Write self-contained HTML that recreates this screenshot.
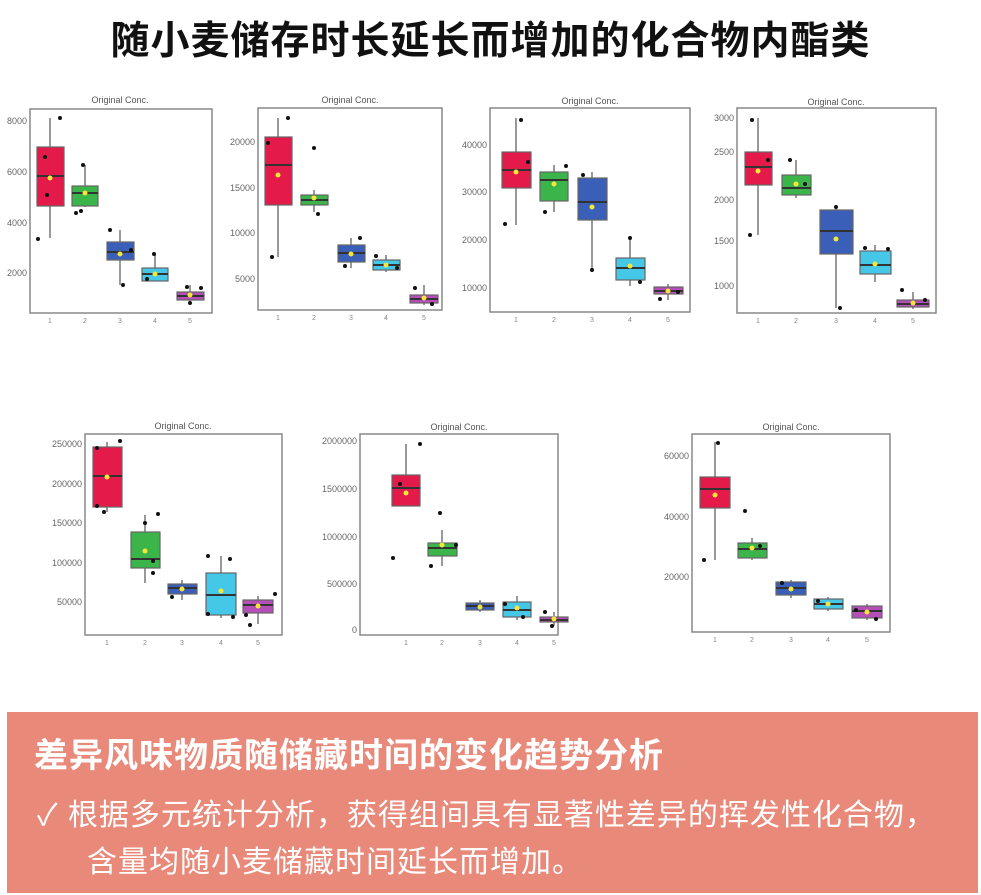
<!DOCTYPE html>
<html><head><meta charset="utf-8"><style>
body{margin:0;width:981px;height:895px;background:#fff;overflow:hidden;position:relative;font-family:"Liberation Sans","Noto Sans CJK SC",sans-serif}
.t{position:absolute;left:0;width:981px;top:10px;text-align:center;font-size:39px;font-weight:bold;color:#111;font-family:"Liberation Sans","Noto Sans CJK SC",sans-serif;letter-spacing:1px}
.box{position:absolute;left:7px;top:712px;width:971px;height:181px;background:#e8897a;color:#fff}
.h{position:absolute;left:27px;top:16px;font-size:34px;font-weight:bold;white-space:nowrap;letter-spacing:1px}
.l1{position:absolute;left:30px;top:78px;font-size:30px;white-space:nowrap;letter-spacing:1px}
.l2{position:absolute;left:80px;top:125px;font-size:30px;white-space:nowrap;letter-spacing:1px}
svg{position:absolute;left:0;top:0}
</style></head><body>
<div class="t">随小麦储存时长延长而增加的化合物内酯类</div>
<svg width="981" height="700" viewBox="0 0 981 700" font-family="Liberation Sans, sans-serif">
<g fill="none" stroke="#888" stroke-width="1.5">
<rect x="30" y="109" width="182" height="204"/>
<rect x="258" y="108" width="184" height="202"/>
<rect x="490" y="108" width="200" height="204"/>
<rect x="737" y="108" width="199" height="205"/>
<rect x="85" y="434" width="197" height="201"/>
<rect x="360" y="434" width="198" height="201"/>
<rect x="692" y="434" width="198" height="198"/>
</g>
<g font-size="9" fill="#555" text-anchor="middle">
<text x="120" y="103">Original Conc.</text><text x="350" y="103">Original Conc.</text><text x="590" y="104">Original Conc.</text><text x="836" y="105">Original Conc.</text>
<text x="183" y="429">Original Conc.</text><text x="459" y="430">Original Conc.</text><text x="791" y="430">Original Conc.</text>
</g>
<g font-size="9" fill="#666" text-anchor="end">
<text x="27" y="124">8000</text><text x="27" y="175">6000</text><text x="27" y="226">4000</text><text x="27" y="276">2000</text>
<text x="255" y="145">20000</text><text x="255" y="191">15000</text><text x="255" y="236">10000</text><text x="255" y="282">5000</text>
<text x="487" y="148">40000</text><text x="487" y="195">30000</text><text x="487" y="243">20000</text><text x="487" y="291">10000</text>
<text x="734" y="121">3000</text><text x="734" y="155">2500</text><text x="734" y="203">2000</text><text x="734" y="244">1500</text><text x="734" y="289">1000</text>
<text x="82" y="447">250000</text><text x="82" y="487">200000</text><text x="82" y="526">150000</text><text x="82" y="566">100000</text><text x="82" y="605">50000</text>
<text x="357" y="444">2000000</text><text x="357" y="492">1500000</text><text x="357" y="540">1000000</text><text x="357" y="587">500000</text><text x="357" y="633">0</text>
<text x="689" y="459">60000</text><text x="689" y="520">40000</text><text x="689" y="580">20000</text>
</g>
<g font-size="7" fill="#888" text-anchor="middle">
<text x="50" y="323">1</text><text x="85" y="323">2</text><text x="120" y="323">3</text><text x="155" y="323">4</text><text x="190" y="323">5</text>
<text x="278" y="320">1</text><text x="314" y="320">2</text><text x="351" y="320">3</text><text x="386" y="320">4</text><text x="424" y="320">5</text>
<text x="516" y="322">1</text><text x="554" y="322">2</text><text x="592" y="322">3</text><text x="630" y="322">4</text><text x="668" y="322">5</text>
<text x="758" y="323">1</text><text x="796" y="323">2</text><text x="836" y="323">3</text><text x="875" y="323">4</text><text x="913" y="323">5</text>
<text x="107" y="645">1</text><text x="145" y="645">2</text><text x="182" y="645">3</text><text x="221" y="645">4</text><text x="258" y="645">5</text>
<text x="406" y="645">1</text><text x="442" y="645">2</text><text x="480" y="645">3</text><text x="517" y="645">4</text><text x="554" y="645">5</text>
<text x="715" y="642">1</text><text x="752" y="642">2</text><text x="791" y="642">3</text><text x="828" y="642">4</text><text x="867" y="642">5</text>
</g>
<g stroke="#777" stroke-width="1.5">
<line x1="50" y1="118" x2="50" y2="238"/><line x1="85" y1="165" x2="85" y2="207"/><line x1="120" y1="230" x2="120" y2="285"/><line x1="155" y1="254" x2="155" y2="281"/><line x1="190" y1="285" x2="190" y2="302"/>
<line x1="278" y1="118" x2="278" y2="257"/><line x1="314" y1="190" x2="314" y2="212"/><line x1="351" y1="238" x2="351" y2="268"/><line x1="386" y1="255" x2="386" y2="272"/><line x1="424" y1="285" x2="424" y2="305"/>
<line x1="516" y1="118" x2="516" y2="225"/><line x1="554" y1="165" x2="554" y2="212"/><line x1="592" y1="172" x2="592" y2="270"/><line x1="630" y1="238" x2="630" y2="286"/><line x1="668" y1="284" x2="668" y2="300"/>
<line x1="758" y1="118" x2="758" y2="235"/><line x1="796" y1="160" x2="796" y2="198"/><line x1="836" y1="205" x2="836" y2="308"/><line x1="875" y1="245" x2="875" y2="282"/><line x1="913" y1="292" x2="913" y2="309"/>
<line x1="107" y1="442" x2="107" y2="512"/><line x1="145" y1="515" x2="145" y2="583"/><line x1="182" y1="580" x2="182" y2="600"/><line x1="221" y1="556" x2="221" y2="618"/><line x1="258" y1="596" x2="258" y2="624"/>
<line x1="406" y1="444" x2="406" y2="506"/><line x1="442" y1="530" x2="442" y2="566"/><line x1="480" y1="600" x2="480" y2="612"/><line x1="517" y1="596" x2="517" y2="620"/><line x1="554" y1="612" x2="554" y2="626"/>
<line x1="715" y1="442" x2="715" y2="560"/><line x1="752" y1="538" x2="752" y2="560"/><line x1="791" y1="580" x2="791" y2="598"/><line x1="828" y1="597" x2="828" y2="611"/><line x1="867" y1="604" x2="867" y2="620"/>
</g>
<g stroke="#666" stroke-width="1.2">
<g fill="#e31a4a"><rect x="37" y="147" width="27" height="59"/><rect x="265" y="137" width="27" height="68"/><rect x="502" y="152" width="29" height="36"/><rect x="745" y="152" width="27" height="33"/><rect x="93" y="447" width="29" height="60"/><rect x="392" y="475" width="28" height="31"/><rect x="700" y="477" width="30" height="31"/></g>
<g fill="#3bb54a"><rect x="72" y="186" width="26" height="20"/><rect x="301" y="195" width="27" height="10"/><rect x="540" y="172" width="28" height="29"/><rect x="782" y="175" width="29" height="20"/><rect x="131" y="532" width="29" height="36"/><rect x="428" y="543" width="29" height="13"/><rect x="738" y="543" width="29" height="15"/></g>
<g fill="#3a5fb8"><rect x="107" y="242" width="27" height="18"/><rect x="338" y="245" width="27" height="17"/><rect x="578" y="178" width="29" height="42"/><rect x="820" y="210" width="33" height="44"/><rect x="168" y="584" width="29" height="10"/><rect x="466" y="603" width="28" height="7"/><rect x="776" y="582" width="30" height="13"/></g>
<g fill="#45c7e8"><rect x="142" y="268" width="26" height="13"/><rect x="373" y="260" width="27" height="10"/><rect x="616" y="258" width="29" height="22"/><rect x="860" y="251" width="31" height="23"/><rect x="206" y="573" width="30" height="42"/><rect x="503" y="602" width="28" height="15"/><rect x="814" y="599" width="29" height="10"/></g>
<g fill="#b44fb8"><rect x="177" y="292" width="27" height="8"/><rect x="410" y="295" width="28" height="8"/><rect x="654" y="287" width="29" height="7"/><rect x="897" y="300" width="32" height="7"/><rect x="243" y="600" width="30" height="13"/><rect x="540" y="617" width="28" height="5"/><rect x="852" y="606" width="30" height="12"/></g>
</g>
<g stroke="#333" stroke-width="2">
<line x1="37" y1="176" x2="64" y2="176"/><line x1="72" y1="193" x2="98" y2="193"/><line x1="107" y1="252" x2="134" y2="252"/><line x1="142" y1="274" x2="168" y2="274"/><line x1="177" y1="296" x2="204" y2="296"/>
<line x1="265" y1="165" x2="292" y2="165"/><line x1="301" y1="200" x2="328" y2="200"/><line x1="338" y1="253" x2="365" y2="253"/><line x1="373" y1="265" x2="400" y2="265"/><line x1="410" y1="299" x2="438" y2="299"/>
<line x1="502" y1="170" x2="531" y2="170"/><line x1="540" y1="180" x2="568" y2="180"/><line x1="578" y1="202" x2="607" y2="202"/><line x1="616" y1="268" x2="645" y2="268"/><line x1="654" y1="291" x2="683" y2="291"/>
<line x1="745" y1="167" x2="772" y2="167"/><line x1="782" y1="188" x2="811" y2="188"/><line x1="820" y1="231" x2="853" y2="231"/><line x1="860" y1="265" x2="891" y2="265"/><line x1="897" y1="304" x2="929" y2="304"/>
<line x1="93" y1="476" x2="122" y2="476"/><line x1="131" y1="559" x2="160" y2="559"/><line x1="168" y1="588" x2="197" y2="588"/><line x1="206" y1="595" x2="236" y2="595"/><line x1="243" y1="605" x2="273" y2="605"/>
<line x1="392" y1="488" x2="420" y2="488"/><line x1="428" y1="548" x2="457" y2="548"/><line x1="466" y1="606" x2="494" y2="606"/><line x1="503" y1="610" x2="531" y2="610"/><line x1="540" y1="620" x2="568" y2="620"/>
<line x1="700" y1="489" x2="730" y2="489"/><line x1="738" y1="549" x2="767" y2="549"/><line x1="776" y1="588" x2="806" y2="588"/><line x1="814" y1="604" x2="843" y2="604"/><line x1="852" y1="611" x2="882" y2="611"/>
</g>
<g fill="#111">
<circle cx="38" cy="239" r="2"/><circle cx="60" cy="118" r="2"/><circle cx="45" cy="157" r="2"/><circle cx="47" cy="195" r="2"/><circle cx="83" cy="165" r="2"/><circle cx="76" cy="213" r="2"/><circle cx="81" cy="211" r="2"/><circle cx="110" cy="230" r="2"/><circle cx="131" cy="250" r="2"/><circle cx="123" cy="285" r="2"/><circle cx="154" cy="254" r="2"/><circle cx="147" cy="279" r="2"/><circle cx="187" cy="287" r="2"/><circle cx="201" cy="288" r="2"/><circle cx="190" cy="303" r="2"/>
<circle cx="272" cy="257" r="2"/><circle cx="288" cy="118" r="2"/><circle cx="268" cy="143" r="2"/><circle cx="314" cy="148" r="2"/><circle cx="318" cy="214" r="2"/><circle cx="360" cy="238" r="2"/><circle cx="345" cy="266" r="2"/><circle cx="376" cy="256" r="2"/><circle cx="397" cy="268" r="2"/><circle cx="415" cy="288" r="2"/><circle cx="432" cy="304" r="2"/>
<circle cx="505" cy="224" r="2"/><circle cx="521" cy="120" r="2"/><circle cx="528" cy="162" r="2"/><circle cx="545" cy="212" r="2"/><circle cx="566" cy="166" r="2"/><circle cx="583" cy="175" r="2"/><circle cx="592" cy="270" r="2"/><circle cx="630" cy="238" r="2"/><circle cx="640" cy="282" r="2"/><circle cx="660" cy="299" r="2"/><circle cx="678" cy="292" r="2"/>
<circle cx="750" cy="235" r="2"/><circle cx="752" cy="120" r="2"/><circle cx="768" cy="160" r="2"/><circle cx="790" cy="160" r="2"/><circle cx="805" cy="184" r="2"/><circle cx="836" cy="207" r="2"/><circle cx="840" cy="308" r="2"/><circle cx="865" cy="248" r="2"/><circle cx="888" cy="249" r="2"/><circle cx="902" cy="290" r="2"/><circle cx="925" cy="300" r="2"/>
<circle cx="97" cy="448" r="2"/><circle cx="120" cy="441" r="2"/><circle cx="97" cy="506" r="2"/><circle cx="104" cy="512" r="2"/><circle cx="145" cy="523" r="2"/><circle cx="158" cy="514" r="2"/><circle cx="153" cy="561" r="2"/><circle cx="153" cy="573" r="2"/><circle cx="172" cy="597" r="2"/><circle cx="208" cy="556" r="2"/><circle cx="230" cy="559" r="2"/><circle cx="208" cy="614" r="2"/><circle cx="233" cy="617" r="2"/><circle cx="246" cy="615" r="2"/><circle cx="250" cy="625" r="2"/><circle cx="275" cy="594" r="2"/>
<circle cx="400" cy="484" r="2"/><circle cx="420" cy="444" r="2"/><circle cx="393" cy="558" r="2"/><circle cx="431" cy="566" r="2"/><circle cx="440" cy="513" r="2"/><circle cx="456" cy="545" r="2"/><circle cx="505" cy="604" r="2"/><circle cx="523" cy="617" r="2"/><circle cx="545" cy="612" r="2"/><circle cx="552" cy="626" r="2"/>
<circle cx="704" cy="560" r="2"/><circle cx="718" cy="443" r="2"/><circle cx="745" cy="511" r="2"/><circle cx="760" cy="546" r="2"/><circle cx="782" cy="583" r="2"/><circle cx="818" cy="601" r="2"/><circle cx="856" cy="610" r="2"/><circle cx="876" cy="619" r="2"/>
</g>
<g fill="#f5e63a">
<circle cx="50" cy="178" r="2.5"/><circle cx="85" cy="193" r="2.5"/><circle cx="120" cy="254" r="2.5"/><circle cx="155" cy="274" r="2.5"/><circle cx="190" cy="295" r="2.5"/>
<circle cx="278" cy="175" r="2.5"/><circle cx="314" cy="198" r="2.5"/><circle cx="351" cy="254" r="2.5"/><circle cx="386" cy="265" r="2.5"/><circle cx="424" cy="298" r="2.5"/>
<circle cx="516" cy="172" r="2.5"/><circle cx="554" cy="184" r="2.5"/><circle cx="592" cy="207" r="2.5"/><circle cx="630" cy="266" r="2.5"/><circle cx="668" cy="291" r="2.5"/>
<circle cx="758" cy="171" r="2.5"/><circle cx="796" cy="184" r="2.5"/><circle cx="836" cy="239" r="2.5"/><circle cx="875" cy="264" r="2.5"/><circle cx="913" cy="303" r="2.5"/>
<circle cx="107" cy="477" r="2.5"/><circle cx="145" cy="551" r="2.5"/><circle cx="182" cy="589" r="2.5"/><circle cx="221" cy="591" r="2.5"/><circle cx="258" cy="606" r="2.5"/>
<circle cx="406" cy="493" r="2.5"/><circle cx="442" cy="545" r="2.5"/><circle cx="480" cy="607" r="2.5"/><circle cx="517" cy="608" r="2.5"/><circle cx="554" cy="619" r="2.5"/>
<circle cx="715" cy="495" r="2.5"/><circle cx="752" cy="548" r="2.5"/><circle cx="791" cy="589" r="2.5"/><circle cx="828" cy="604" r="2.5"/><circle cx="867" cy="612" r="2.5"/>
</g>
</svg>
<div class="box">
<div class="h">差异风味物质随储藏时间的变化趋势分析</div>
<div class="l1">✓ 根据多元统计分析，获得组间具有显著性差异的挥发性化合物，</div>
<div class="l2">含量均随小麦储藏时间延长而增加。</div>
</div>
</body></html>
